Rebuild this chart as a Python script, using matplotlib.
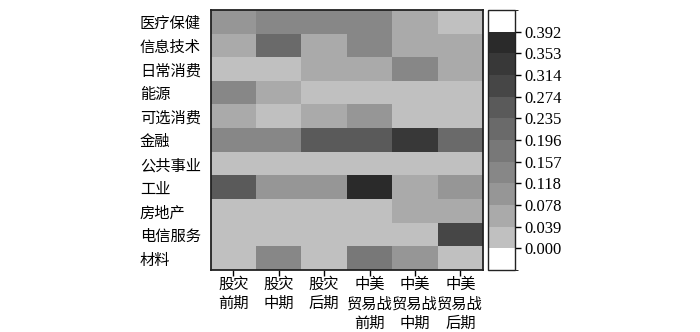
import numpy as np
import matplotlib.pyplot as plt
from matplotlib.colors import ListedColormap, BoundaryNorm

plt.rcParams['font.family'] = ['Noto Sans CJK SC', 'DejaVu Sans']

# Dữ liệu
sectors = ['医疗保健', '信息技术', '日常消费', '能源', '可选消费', '金融',
           '公共事业', '工业', '房地产', '电信服务', '材料']
periods = ['股灾\n前期', '股灾\n中期', '股灾\n后期',
           '中美\n贸易战\n前期', '中美\n贸易战\n中期', '中美\n贸易战\n后期']
tick_labels = ['0.000', '0.039', '0.078', '0.118', '0.157', '0.196',
               '0.235', '0.274', '0.314', '0.353', '0.392']

med = [0.10, 0.14, 0.14, 0.14, 0.06, 0.02]
it = [0.07, 0.21, 0.05, 0.14, 0.06, 0.06]
staples = [0.02, 0.02, 0.06, 0.06, 0.13, 0.06]
energy = [0.15, 0.06, 0.02, 0.02, 0.02, 0.02]
discretionary = [0.06, 0.02, 0.06, 0.10, 0.02, 0.02]
finance = [0.14, 0.14, 0.25, 0.25, 0.33, 0.23]
utilities = [0.02, 0.02, 0.02, 0.02, 0.02, 0.02]
industry = [0.24, 0.10, 0.10, 0.37, 0.06, 0.10]
realestate = [0.02, 0.02, 0.02, 0.02, 0.06, 0.06]
telecom = [0.02, 0.02, 0.02, 0.02, 0.02, 0.30]
materials = [0.02, 0.13, 0.02, 0.18, 0.10, 0.02]

data = np.array([med, it, staples, energy, discretionary, finance,
                 utilities, industry, realestate, telecom, materials])

# Thang màu xám rời rạc, hai đầu trắng
tick_vals = [float(t) for t in tick_labels]
step = tick_vals[1] - tick_vals[0]
bounds = [tick_vals[0] - step] + tick_vals + [tick_vals[-1] + step]
grays = [255, 192, 170, 150, 135, 120, 106, 90, 70, 56, 42, 255]
cmap = ListedColormap([(g / 255, g / 255, g / 255) for g in grays])
norm = BoundaryNorm(bounds, cmap.N)

fig = plt.figure(figsize=(7, 3.32), dpi=100)
ax = fig.add_axes([0.301, 0.187, 0.389, 0.783])
cax = fig.add_axes([0.697, 0.187, 0.038, 0.783])

im = ax.pcolormesh(data, cmap=cmap, norm=norm)
ax.set_xlim(0, data.shape[1])
ax.set_ylim(data.shape[0], 0)

ax.set_xticks(np.arange(len(periods)) + 0.5)
ax.set_xticklabels(periods, fontsize=11, fontweight='medium', linespacing=1.22)
ax.set_yticks(np.arange(len(sectors)) + 0.5)
ax.set_yticklabels(sectors, fontsize=11, fontweight='medium', ha='left')
ax.tick_params(axis='y', length=0, pad=51)
ax.tick_params(axis='x', length=4, width=1, direction='out', pad=0)
for s in ax.spines.values():
    s.set_linewidth(1.3)
    s.set_color('#222222')

cb = fig.colorbar(im, cax=cax, ticks=tick_vals, spacing='uniform')
cb.ax.set_yticklabels(tick_labels, family='Liberation Serif', fontsize=12)
cb.ax.tick_params(length=4, width=1, pad=3)
cb.outline.set_linewidth(1.0)
cb.outline.set_edgecolor('#222222')

plt.savefig('out.png', dpi=100)
